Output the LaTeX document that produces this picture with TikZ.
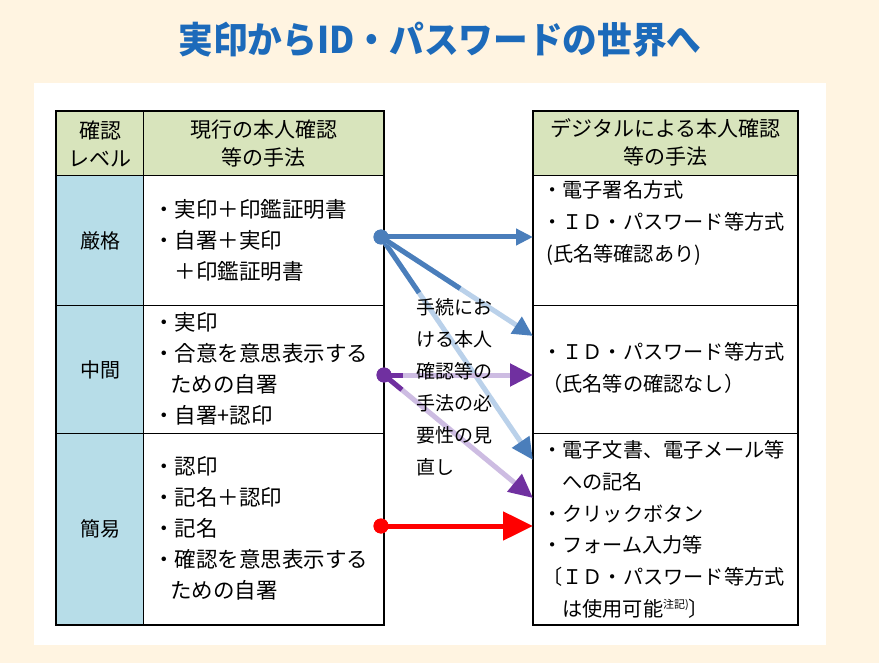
\documentclass[tikz,border=0pt]{standalone}
\usepackage{fontspec}
\newfontfamily\cjk{Noto Sans CJK JP}
\usetikzlibrary{arrows.meta,calc}
\definecolor{cream}{RGB}{255,244,225}
\definecolor{titleblue}{RGB}{28,106,186}
\definecolor{hdrgreen}{RGB}{216,228,188}
\definecolor{lvlblue}{RGB}{183,221,232}
\definecolor{blueD}{RGB}{74,126,187}
\definecolor{blueL}{RGB}{186,209,234}
\definecolor{purD}{RGB}{112,48,160}
\definecolor{purL}{RGB}{205,188,226}
\definecolor{redA}{RGB}{255,0,0}
\newcommand\gradarrow[7]{%
  \draw[#2, line width=5pt, -{Triangle[length=#6pt,width=#7pt,color=#1]}] (#3) -- (#4);
  \draw[#1, line width=5pt] (#3) -- ($(#3)!#5!(#4)$);}
\begin{document}
\begin{tikzpicture}[x=1pt,y=-1pt,
  cell/.style={draw=black, line width=1pt, inner sep=0pt, anchor=north west},
  lt/.style={font=\cjk\fontsize{21.5}{31}\selectfont, align=left, anchor=west, inner sep=0pt},
  ct/.style={font=\cjk\fontsize{21}{28}\selectfont, align=center, inner sep=0pt},
  dot/.style={circle, inner sep=0pt, minimum size=15pt}]
\useasboundingbox (0,0) rectangle (879,663);
\fill[cream] (0,0) rectangle (879,663);
\fill[white] (34,83) rectangle (826,645);
\node[font=\cjk\bfseries\fontsize{34}{34}\selectfont, text=titleblue] (title) at (440,40) {\scalebox{1.02}[1.08]{実印からID・パスワードの世界へ}};
% left table
\node[cell, fill=hdrgreen, minimum width=87pt, minimum height=64pt] (lh1) at (56,111) {};
\node[cell, fill=hdrgreen, minimum width=240pt, minimum height=64pt] (lh2) at (143,111) {};
\node[cell, fill=lvlblue, minimum width=87pt, minimum height=130pt] (l1a) at (56,175) {};
\node[cell, fill=white, minimum width=240pt, minimum height=130pt] (l1b) at (143,175) {};
\node[cell, fill=lvlblue, minimum width=87pt, minimum height=128pt] (l2a) at (56,305) {};
\node[cell, fill=white, minimum width=240pt, minimum height=128pt] (l2b) at (143,305) {};
\node[cell, fill=lvlblue, minimum width=87pt, minimum height=191pt] (l3a) at (56,433) {};
\node[cell, fill=white, minimum width=240pt, minimum height=191pt] (l3b) at (143,433) {};
\draw[line width=2pt] (lh1.north west) rectangle (l3b.south east);
% right table
\node[cell, fill=hdrgreen, minimum width=264pt, minimum height=64pt] (rh) at (533,111) {};
\node[cell, fill=white, minimum width=264pt, minimum height=130pt] (r1) at (533,175) {};
\node[cell, fill=white, minimum width=264pt, minimum height=128pt] (r2) at (533,305) {};
\node[cell, fill=white, minimum width=264pt, minimum height=191pt] (r3) at (533,433) {};
\draw[line width=2pt] (rh.north west) rectangle (r3.south east);
% headers
\node[ct] (th1) at (lh1.center) {確認\\レベル};
\node[ct] (th2) at (lh2.center) {現行の本人確認\\等の手法};
\node[ct] (th3) at ($(rh.center)+(0,-1)$) {デジタルによる本人確認\\等の手法};
\node[ct, font=\cjk\fontsize{20}{28}\selectfont] (lv1) at (l1a.center) {厳格};
\node[ct, font=\cjk\fontsize{20}{28}\selectfont] (lv2) at (l2a.center) {中間};
\node[ct, font=\cjk\fontsize{20}{28}\selectfont] (lv3) at (l3a.center) {簡易};
% arrows
\node[dot, fill=blueD] (d1) at (381,237) {};
\node[dot, fill=purD] (d2) at (384,375) {};
\node[dot, fill=redA] (d3) at (381,526) {};
\coordinate (t11) at (533,237);
\coordinate (t12) at (533,336);
\coordinate (t13) at (533,460);
\coordinate (t21) at (533,375);
\coordinate (t22) at (533,498);
\coordinate (t3) at (533,526);
\gradarrow{blueD}{blueL}{d1.center}{t13}{0.25}{22}{20}
\gradarrow{blueD}{blueL}{d1.center}{t12}{0.52}{20}{19}
\draw[blueD, line width=5pt, -{Triangle[length=17pt,width=16pt]}] (d1.center) -- (t11);
\gradarrow{purD}{purL}{d2.center}{t22}{0.12}{24}{22}
\gradarrow{purD}{purL}{d2.center}{t21}{0.13}{23}{22}
\draw[redA, line width=5pt, -{Triangle[length=30pt,width=28pt]}] (d3.center) -- (t3);
\node[dot, fill=blueD] at (d1) {};
\node[dot, fill=purD] at (d2) {};
\node[dot, fill=redA] at (d3) {};
% contents left
\node[lt] (c11) at (153,240) {・実印＋印鑑証明書\\・自署＋実印\\　＋印鑑証明書};
\node[lt] (c12) at (153,368.5) {・実印\\・合意を意思表示する\\\hspace*{17pt}ための自署\\・自署+認印};
\node[lt] (c13) at (153,528.5) {・認印\\・記名＋認印\\・記名\\・確認を意思表示する\\\hspace*{17pt}ための自署};
% contents right
\node[lt, font=\cjk\fontsize{20.2}{32}\selectfont] (c21) at (542,223) {・電子署名方式\\・ＩＤ・パスワード等方式\\\hspace*{4pt}(氏名等確認あり)};
\node[lt, font=\cjk\fontsize{20.2}{32}\selectfont] (c22) at (542,368) {・ＩＤ・パスワード等方式\\（氏名等の確認なし）};
\node[lt, font=\cjk\fontsize{20.2}{31.8}\selectfont] (c23) at (542,529.5) {・電子文書、電子メール等\\\hspace*{20pt}への記名\\・クリックボタン\\・フォーム入力等\\〔ＩＤ・パスワード等方式\\\hspace*{20pt}は使用可能\raisebox{8pt}{\fontsize{11}{11}\selectfont 注記)}〕};
% middle
\node[lt, font=\cjk\fontsize{19}{32}\selectfont, anchor=north west] (mid) at (416,298) {手続にお\\ける本人\\確認等の\\手法の必\\要性の見\\直し};
\end{tikzpicture}
\end{document}
